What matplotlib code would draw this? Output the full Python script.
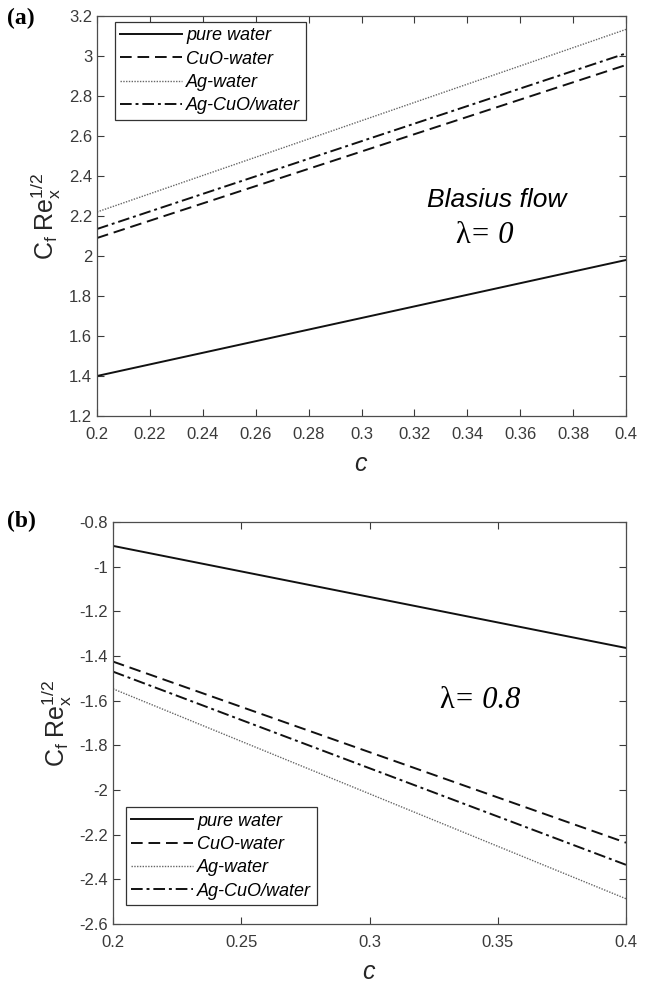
import matplotlib.pyplot as plt

plt.rcParams['font.family'] = 'Liberation Sans'
plt.rcParams['mathtext.fontset'] = 'custom'
plt.rcParams['mathtext.rm'] = 'Liberation Sans'
plt.rcParams['mathtext.it'] = 'Liberation Sans:italic'

c = [0.2, 0.4]
labels = ['pure water', 'CuO-water', 'Ag-water', 'Ag-CuO/water']

# (a) Blasius flow, lambda = 0
a_pure = [1.40, 1.98]
a_cuo = [2.09, 2.955]
a_ag = [2.22, 3.133]
a_agcuo = [2.135, 3.013]

# (b) lambda = 0.8
b_pure = [-0.907, -1.364]
b_cuo = [-1.425, -2.236]
b_ag = [-1.547, -2.487]
b_agcuo = [-1.47, -2.335]

styles = [dict(ls='-', color='#111111', lw=1.4),
          dict(ls=(0, (6, 3)), color='#111111', lw=1.4),
          dict(ls=(0, (1, 1)), color='#666666', lw=1.0),
          dict(ls=(0, (6, 2, 1.5, 2)), color='#111111', lw=1.4)]

W, H = 650, 985
fig = plt.figure(figsize=(6.5, 9.85), dpi=100)
ax1 = fig.add_axes([97 / W, 1 - 416 / H, 529 / W, 400 / H])
ax2 = fig.add_axes([113 / W, 1 - 924 / H, 513 / W, 402 / H])

ylab = '$\\mathrm{C}_{\\mathrm{f}}\\;\\mathrm{Re}_{\\mathrm{x}}^{\\mathit{1/2}}$'


def style_axes(ax):
    for s in ax.spines.values():
        s.set_color('#4d4d4d')
        s.set_linewidth(0.9)
    ax.tick_params(direction='in', top=True, right=True, labelsize=12,
                   colors='#3a3a3a', length=5, width=0.8)
    ax.tick_params(axis='x', pad=8)
    ax.set_xlabel('$\\mathit{c}$', fontsize=18, color='#262626', labelpad=7)
    ax.set_ylabel(ylab, fontsize=18, color='#262626')


def add_legend(ax, loc, anchor):
    leg = ax.legend(loc=loc, bbox_to_anchor=anchor, borderaxespad=0,
                    prop={'style': 'italic', 'size': 13}, frameon=True,
                    fancybox=False, handlelength=3.4, labelspacing=0.35,
                    handletextpad=0.25, borderpad=0.3, framealpha=1)
    leg.get_frame().set_edgecolor('#333333')
    leg.get_frame().set_linewidth(0.9)


for ys, st, lb in zip([a_pure, a_cuo, a_ag, a_agcuo], styles, labels):
    ax1.plot(c, ys, label=lb, **st)
ax1.set_xlim(0.2, 0.4)
ax1.set_ylim(1.2, 3.2)
ax1.set_xticks([0.2 + 0.02 * i for i in range(11)])
ax1.set_xticklabels(['0.2', '0.22', '0.24', '0.26', '0.28', '0.3', '0.32', '0.34', '0.36', '0.38', '0.4'])
ax1.set_yticks([1.2 + 0.2 * i for i in range(11)])
ax1.set_yticklabels(['1.2', '1.4', '1.6', '1.8', '2', '2.2', '2.4', '2.6', '2.8', '3', '3.2'])
style_axes(ax1)
add_legend(ax1, 'upper left', (18 / 529, 1 - 6 / 400))
ax1.text(0.755, 0.54, 'Blasius flow', transform=ax1.transAxes, fontsize=19,
         style='italic', ha='center', va='center')
ax1.text(0.705, 0.452, 'λ', transform=ax1.transAxes, fontsize=22,
         family='Liberation Serif', ha='right', va='center')
ax1.text(0.705, 0.452, '= 0', transform=ax1.transAxes, fontsize=22,
         family='Liberation Serif', style='italic', ha='left', va='center')

for ys, st, lb in zip([b_pure, b_cuo, b_ag, b_agcuo], styles, labels):
    ax2.plot(c, ys, label=lb, **st)
ax2.set_xlim(0.2, 0.4)
ax2.set_ylim(-2.6, -0.8)
ax2.set_xticks([0.2, 0.25, 0.3, 0.35, 0.4])
ax2.set_xticklabels(['0.2', '0.25', '0.3', '0.35', '0.4'])
ax2.set_yticks([-2.6 + 0.2 * i for i in range(10)])
ax2.set_yticklabels(['-2.6', '-2.4', '-2.2', '-2', '-1.8', '-1.6', '-1.4', '-1.2', '-1', '-0.8'])
style_axes(ax2)
add_legend(ax2, 'lower left', (13 / 513, 19 / 402))
ax2.text(0.665, 0.556, 'λ', transform=ax2.transAxes, fontsize=22,
         family='Liberation Serif', ha='right', va='center')
ax2.text(0.665, 0.556, '= 0.8', transform=ax2.transAxes, fontsize=22,
         family='Liberation Serif', style='italic', ha='left', va='center')

fig.text(0.011, 1 - 18 / H, '(a)', fontsize=17, weight='bold', family='Liberation Serif',
         ha='left', va='center')
fig.text(0.011, 1 - 521 / H, '(b)', fontsize=17, weight='bold', family='Liberation Serif',
         ha='left', va='center')

fig.savefig('out.png', dpi=100)
